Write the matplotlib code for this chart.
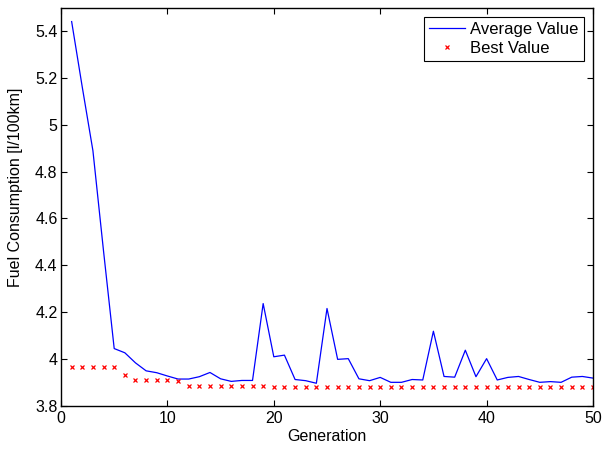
import matplotlib
matplotlib.use("Agg")
import matplotlib.pyplot as plt
import numpy as np

plt.rcParams['font.family'] = ['Liberation Sans', 'DejaVu Sans']

generations = list(range(1, 51))
average_value = [5.44, 5.16, 4.889, 4.46, 4.045, 4.027, 3.984, 3.950, 3.942, 3.928,
                 3.915, 3.915, 3.925, 3.943, 3.916, 3.905, 3.909, 3.909, 4.237, 4.010,
                 4.017, 3.913, 3.908, 3.897, 4.216, 3.999, 4.002, 3.916, 3.908, 3.922,
                 3.901, 3.901, 3.913, 3.911, 4.119, 3.926, 3.923, 4.038, 3.925, 4.002,
                 3.911, 3.922, 3.926, 3.913, 3.901, 3.904, 3.901, 3.923, 3.926, 3.919]
best_value = [3.967, 3.967, 3.967, 3.967, 3.967, 3.933, 3.913, 3.913, 3.913, 3.913,
              3.908, 3.887, 3.887, 3.887, 3.887, 3.887, 3.887, 3.887, 3.887, 3.882,
              3.882] + [3.879] * 29

x_ticks = [0, 10, 20, 30, 40, 50]
y_ticks = [3.8, 4.0, 4.2, 4.4, 4.6, 4.8, 5.0, 5.2, 5.4]
y_tick_labels = ['3.8', '4', '4.2', '4.4', '4.6', '4.8', '5', '5.2', '5.4']

fs = 11.5

fig = plt.figure(figsize=(6.03, 4.5), dpi=100)
ax = fig.add_axes([61/603, 1 - 406/450, (593-61)/603, (406-7.5)/450])

ax.plot(generations, average_value, color='#0000ff', linewidth=0.9, label='Average Value')
ax.plot(generations, best_value, linestyle='none', marker='x', color='#ff0000',
        markersize=3.5, markeredgewidth=0.9, label='Best Value')

ax.set_xlim(0, 50)
ax.set_ylim(3.8, 5.5)
ax.set_xticks(x_ticks)
ax.set_yticks(y_ticks)
ax.set_yticklabels(y_tick_labels)
ax.tick_params(direction='in', length=4, width=0.8, labelsize=fs, top=True, right=True,
               pad=2.5)
ax.tick_params(axis='x', pad=3.5)
for s in ax.spines.values():
    s.set_linewidth(1.0)

ax.set_xlabel('Generation', fontsize=fs, labelpad=2.5)
ax.set_ylabel('Fuel Consumption [l/100km]', fontsize=fs)
ax.yaxis.set_label_coords(-0.072, 0.55)

leg = ax.legend(loc='upper right', fontsize=12, frameon=True, fancybox=False,
                edgecolor='black', framealpha=1, borderpad=0.3, handlelength=2.2,
                handletextpad=0.3, labelspacing=0.25, borderaxespad=0.55)
leg.get_frame().set_linewidth(0.8)

fig.savefig('out.png', dpi=100)
